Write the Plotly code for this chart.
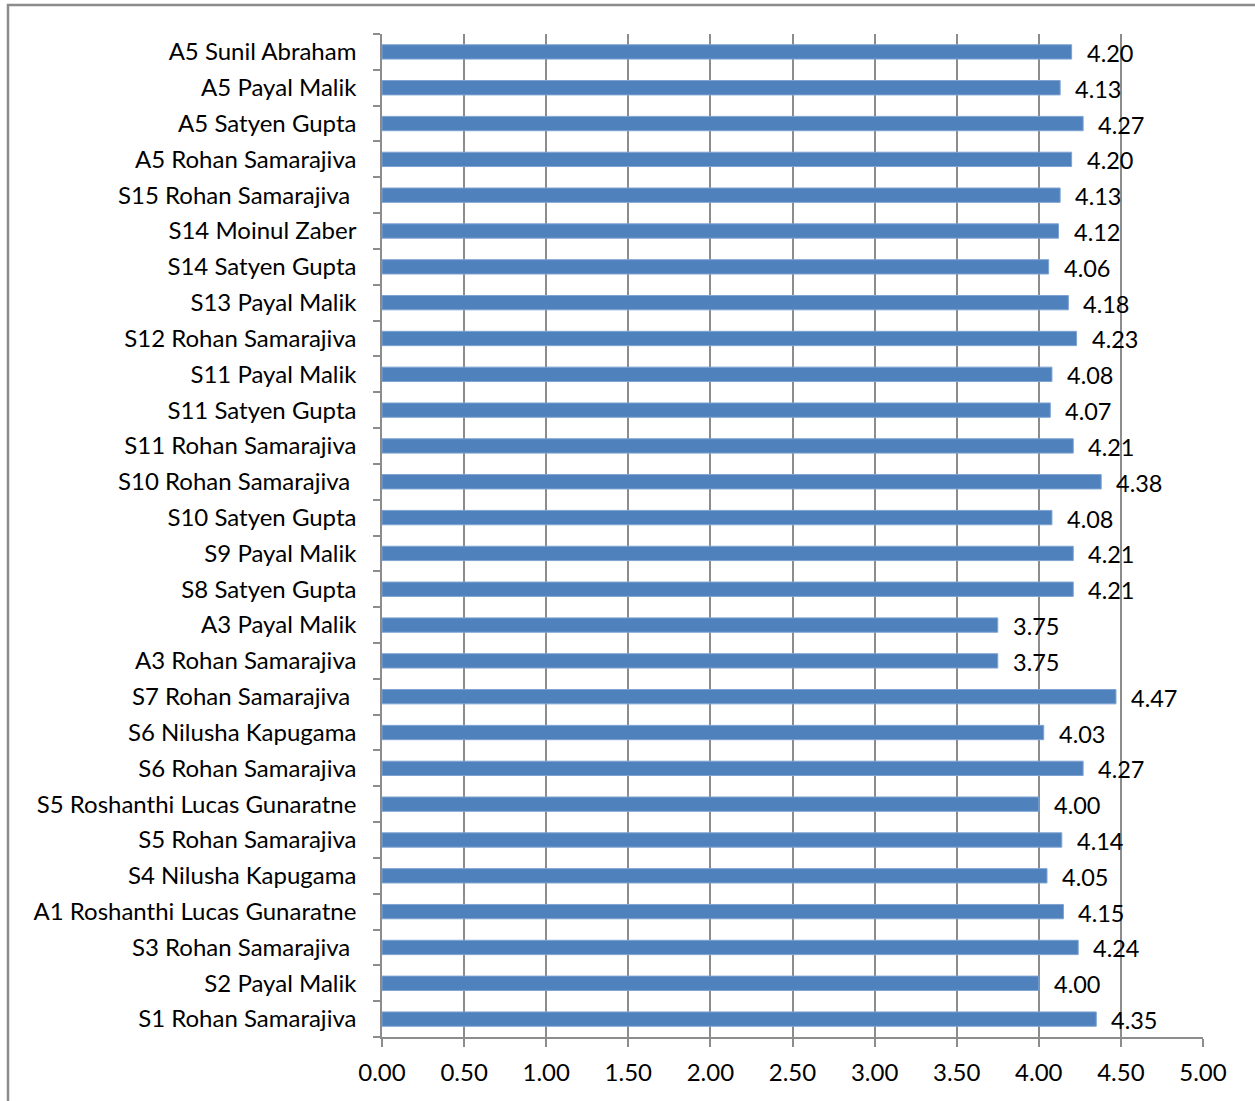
import plotly.graph_objects as go

categories = [
    "S1 Rohan Samarajiva", "S2 Payal Malik", "S3 Rohan Samarajiva ",
    "A1 Roshanthi Lucas Gunaratne", "S4 Nilusha Kapugama", "S5 Rohan Samarajiva",
    "S5 Roshanthi Lucas Gunaratne", "S6 Rohan Samarajiva", "S6 Nilusha Kapugama",
    "S7 Rohan Samarajiva ", "A3 Rohan Samarajiva", "A3 Payal Malik",
    "S8 Satyen Gupta", "S9 Payal Malik", "S10 Satyen Gupta",
    "S10 Rohan Samarajiva ", "S11 Rohan Samarajiva", "S11 Satyen Gupta",
    "S11 Payal Malik", "S12 Rohan Samarajiva", "S13 Payal Malik",
    "S14 Satyen Gupta", "S14 Moinul Zaber", "S15 Rohan Samarajiva ",
    "A5 Rohan Samarajiva", "A5 Satyen Gupta", "A5 Payal Malik", "A5 Sunil Abraham",
]
values = [
    4.35, 4.00, 4.24, 4.15, 4.05, 4.14, 4.00, 4.27, 4.03, 4.47,
    3.75, 3.75, 4.21, 4.21, 4.08, 4.38, 4.21, 4.07, 4.08, 4.23,
    4.18, 4.06, 4.12, 4.13, 4.20, 4.27, 4.13, 4.20,
]

FONT = "Lato"
FS = 24
W, H = 1255, 1101
ML, MR, MT, MB = 382, 52, 34, 64

fig = go.Figure()
fig.add_trace(go.Bar(
    x=values, y=categories, orientation="h", width=0.4,
    marker=dict(color="#4F81BD", line=dict(color="#7EA3D2", width=1)),
    hoverinfo="x+y",
))
for c, v in zip(categories, values):
    fig.add_annotation(x=v, y=c, text=f"{v:.2f}", showarrow=False,
                       xanchor="left", xshift=13, yshift=-1,
                       font=dict(family=FONT, size=FS - 0.5, color="black"))

pw, ph = W - ML - MR, H - MT - MB
fig.add_shape(type="rect", xref="paper", yref="paper",
              x0=(8 - ML) / pw, x1=(W + 5 - ML) / pw,
              y0=-(H + 5 - MT - ph) / ph, y1=1 + (MT - 5) / ph,
              line=dict(color="#8C8C8C", width=2.5), fillcolor="rgba(0,0,0,0)")

fig.update_layout(
    width=W, height=H, margin=dict(l=ML, r=MR, t=MT, b=MB),
    paper_bgcolor="white", plot_bgcolor="white", showlegend=False,
    font=dict(family=FONT, size=FS, color="black"), bargap=0.6,
)
fig.update_xaxes(range=[0, 5], dtick=0.5, tick0=0, tickformat=".2f",
                 showgrid=True, gridcolor="#8C8C8C", gridwidth=1.5,
                 showline=True, linecolor="#8C8C8C", linewidth=1.5,
                 ticks="outside", ticklen=8, tickcolor="#8C8C8C", tickwidth=1.5,
                 ticklabelstandoff=5,
                 zeroline=False, fixedrange=True)
fig.update_yaxes(type="category", categoryorder="array", categoryarray=categories,
                 tickson="boundaries", ticks="outside", ticklen=7,
                 tickcolor="#8C8C8C", tickwidth=1.5,
                 showline=True, linecolor="#8C8C8C", linewidth=1.5,
                 showgrid=False, ticklabelstandoff=19, fixedrange=True)

fig.write_html("out.html", config={"displayModeBar": False},
               post_script="document.body.style.margin='0';")
